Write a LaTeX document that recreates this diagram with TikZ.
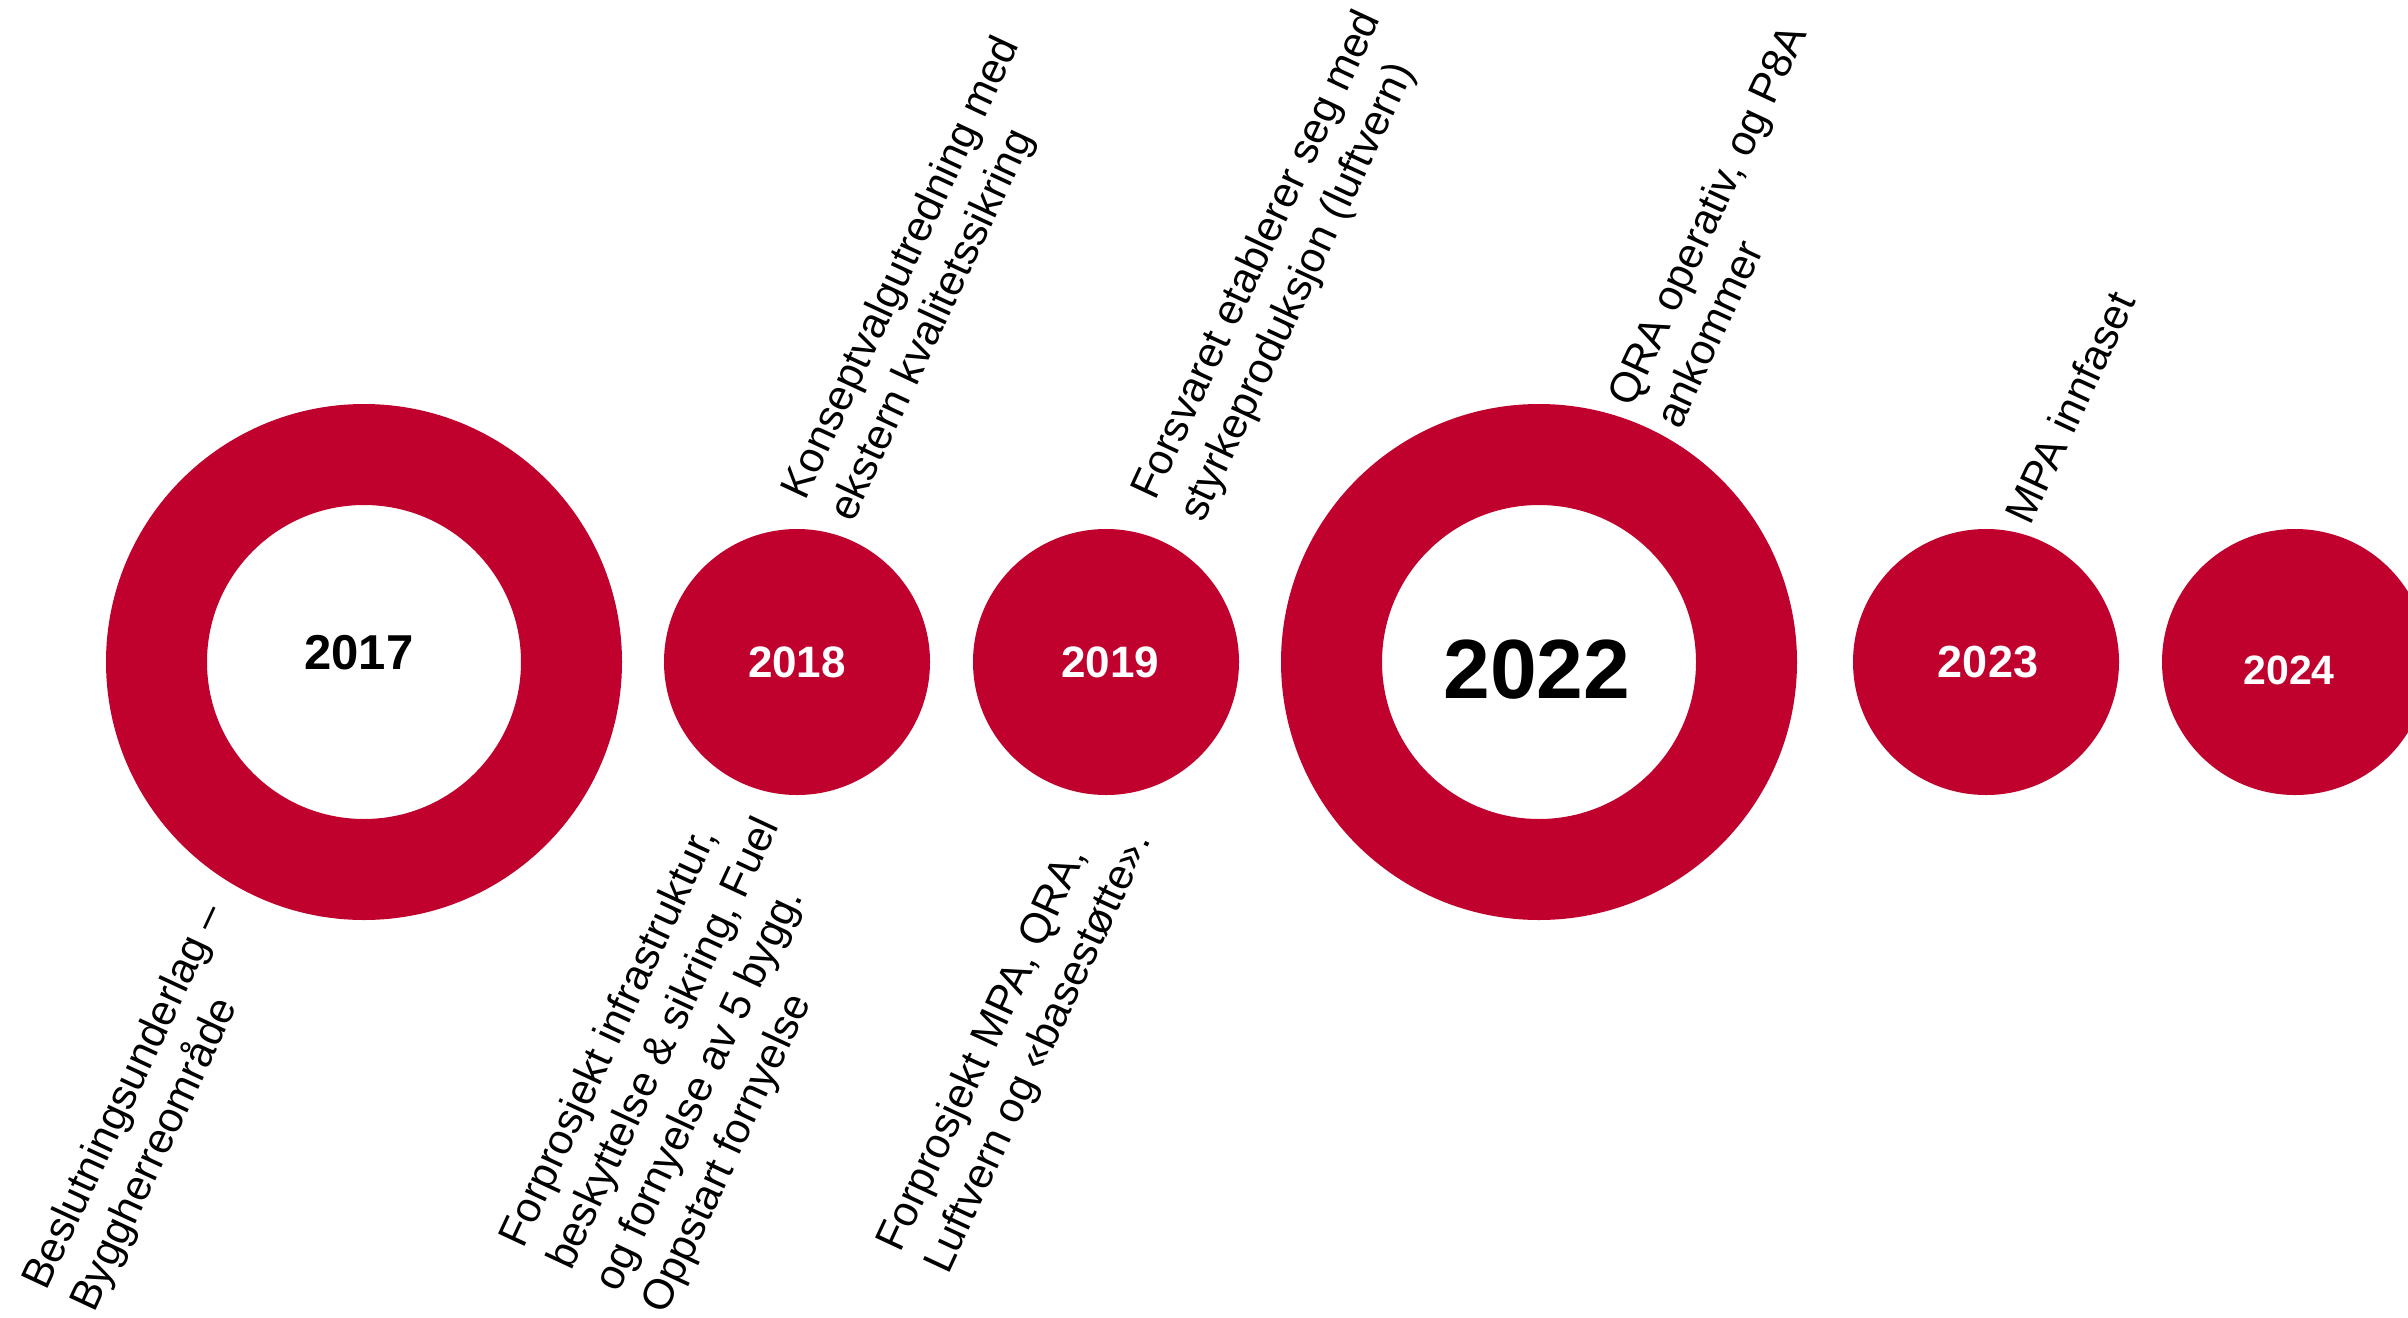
\documentclass[tikz,border=0pt]{standalone}
\usepackage{fontspec}
\setmainfont{Liberation Sans}
\definecolor{crim}{HTML}{C0002D}
\begin{document}
\begin{tikzpicture}[x=0.5pt,y=-0.5pt,
  ring/.style={circle, draw=crim, line width=50.5pt, minimum size=207.5pt, inner sep=0pt},
  dot/.style={circle, fill=crim, minimum size=133pt, inner sep=0pt},
  yearw/.style={font=\bfseries\fontsize{#1}{#1}\selectfont, text=white, inner sep=0pt},
  yeark/.style={font=\bfseries\fontsize{#1}{#1}\selectfont, text=black, inner sep=0pt},
  desc/.style={font=\fontsize{21.2pt}{26pt}\selectfont, align=left, rotate=65, anchor=north west, inner sep=0pt}]
\useasboundingbox (0,0) rectangle (2408,1317);
\clip (0,0) rectangle (2408,1317);
\fill[white] (0,0) rectangle (2408,1317);
% circles
\node[ring] (c2017) at (364,662) {};
\node[dot] (c2018) at (797,662) {};
\node[dot] (c2019) at (1106,662) {};
\node[ring] (c2022) at (1539,662) {};
\node[dot] (c2023) at (1986,662) {};
\node[dot] (c2024) at (2295,662) {};
% year labels
\node[yeark=24.5pt] (y2017) at (359,653) {2017};
\node[yearw=22pt] (y2018) at (797,662) {2018};
\node[yearw=22pt] (y2019) at (1110,662) {2019};
\node[yeark=42pt] (y2022) at (1537,670) {2022};
\node[yearw=22.5pt] (y2023) at (1988,662) {2023};
\node[yearw=20.5pt] (y2024) at (2289,670) {2024};
% descriptions
\node[desc] (d2017) at (18.5,1279) {Beslutningsunderlag –\\Byggherreområde};
\node[desc] (d2018b) at (495.5,1237) {Forprosjekt infrastruktur,\\beskyttelse \& sikring, Fuel\\og fornyelse av 5 bygg.\\Oppstart fornyelse};
\node[desc] (d2019b) at (872.5,1241) {Forprosjekt MPA, QRA,\\Luftvern og «basestøtte».};
\node[desc] (d2018t) at (777.5,489) {Konseptvalgutredning med\\ekstern kvalitetssikring};
\node[desc] (d2019t) at (1127.5,489) {Forsvaret etablerer seg med\\styrkeproduksjon (luftvern)};
\node[desc] (d2022t) at (1604.5,396) {QRA operativ, og P8A\\ankommer};
\node[desc] (d2023t) at (2002.5,514) {MPA innfaset};
\end{tikzpicture}
\end{document}
